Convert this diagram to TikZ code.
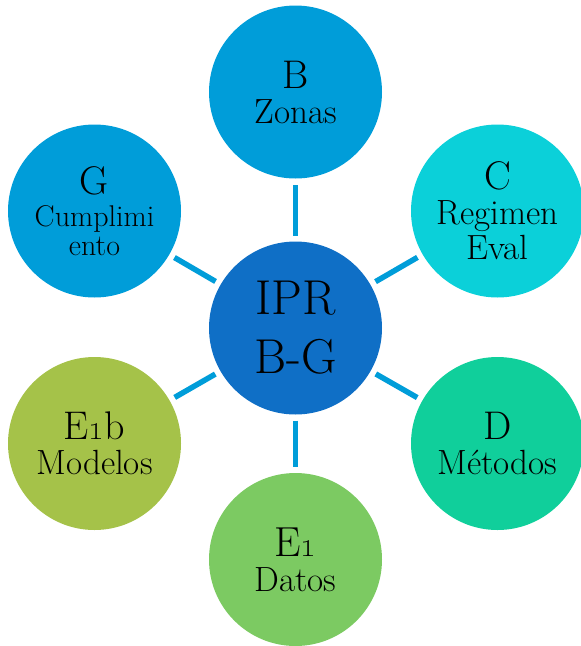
\documentclass[tikz,border=0pt]{standalone}
\usepackage{tikz}
\definecolor{hubblue}{HTML}{0F6FC6}
\definecolor{skyblue}{HTML}{009DD9}
\definecolor{turq}{HTML}{0BD0D9}
\definecolor{mint}{HTML}{10CF9B}
\definecolor{leafgreen}{HTML}{7CCA62}
\definecolor{olive}{HTML}{A5C249}
\tikzset{
	hub/.style={circle,fill=hubblue,minimum size=173pt,inner sep=0pt,outer sep=0pt,align=center,font=\fontsize{49}{59}\selectfont},
	leaf/.style={circle,minimum size=173pt,inner sep=0pt,outer sep=0pt,align=center,font=\fontsize{35}{35}\selectfont},
	spoke/.style={draw=skyblue,line width=5.5pt,shorten <=6pt,shorten >=6pt}}
\newcommand{\ltr}[1]{{\fontsize{40}{35}\selectfont #1}}

\begin{document}
\begin{tikzpicture}[x=1pt,y=-1pt]
		\useasboundingbox (0,0) rectangle (581,646);
		\node (ipr) at (295.5,328) [hub] {IPR\\B-G};
		\node (zonas) at (295.5,92) [leaf,fill=skyblue] {\ltr{B}\\Zonas};
		\node (regimen) at (497.5,211) [leaf,fill=turq] {\ltr{C}\\Regimen\\Eval};
		\node (metodos) at (497.5,443.5) [leaf,fill=mint] {\ltr{D}\\M\'etodos};
		\node (datos) at (295.5,559.5) [leaf,fill=leafgreen] {{\fontsize{42}{35}\selectfont E\oldstylenums{1}}\\Datos};
		\node (modelos) at (94.5,443.5) [leaf,fill=olive] {\ltr{E\oldstylenums{1}b}\\Modelos};
		\node (cumpl) at (94.5,211) [leaf,fill=skyblue,font=\fontsize{30}{29}\selectfont] {\ltr{G}\\[3pt]Cumplimi\\ento};
		\draw [spoke] (ipr) -- (zonas);
		\draw [spoke] (ipr) -- (regimen);
		\draw [spoke] (ipr) -- (metodos);
		\draw [spoke] (ipr) -- (datos);
		\draw [spoke] (ipr) -- (modelos);
		\draw [spoke] (ipr) -- (cumpl);
\end{tikzpicture}
\end{document}
